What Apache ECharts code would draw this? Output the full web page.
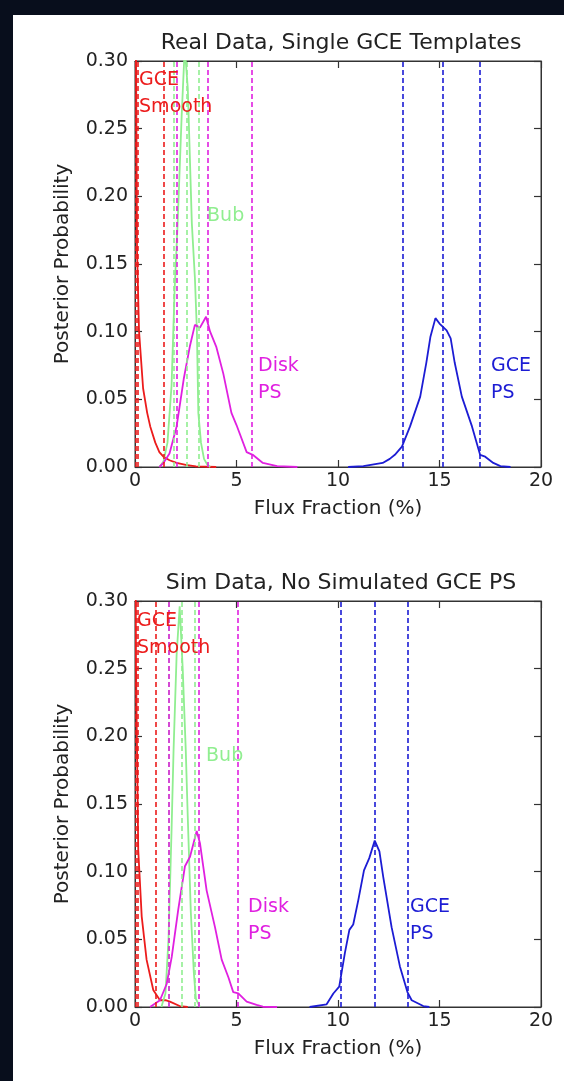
<!DOCTYPE html>
<html>
<head>
<meta charset="utf-8">
<script src="https://cdn.jsdelivr.net/npm/echarts@6/dist/echarts.min.js"></script>
<style>
  html, body { margin: 0; padding: 0; background: #080e1c; }
  #chart { position: absolute; left: 13px; top: 15px; width: 551px; height: 1066px; background: #fff; }
</style>
</head>
<body>
<div id="chart"></div>
<script>
// flux fraction (%) vs posterior probability
const realSmooth = [[0, 0.45], [0.1, 0.16], [0.2, 0.1], [0.4, 0.058], [0.6, 0.04], [0.75, 0.03], [1.0, 0.018],
  [1.2, 0.011], [1.4, 0.0076], [1.7, 0.005], [2.05, 0.003], [2.5, 0.0015], [3, 0.0005], [4, 0]];
const realBub = [[1.2, 0], [1.4, 0.004], [1.6, 0.018], [1.8, 0.06], [1.95, 0.13], [2.1, 0.18], [2.3, 0.26],
  [2.45, 0.31], [2.6, 0.28], [2.8, 0.18], [2.95, 0.14], [3.05, 0.1], [3.12, 0.04], [3.25, 0.018], [3.4, 0.006], [3.55, 0.002], [3.7, 0]];
const realDisk = [[1.2, 0], [1.4, 0.003], [1.7, 0.01], [2.05, 0.03], [2.2, 0.045], [2.4, 0.065], [2.7, 0.089],
  [2.95, 0.105], [3.2, 0.103], [3.5, 0.111], [3.7, 0.1], [4.0, 0.089], [4.35, 0.069], [4.75, 0.04],
  [5.0, 0.031], [5.5, 0.011], [5.8, 0.009], [6.3, 0.003], [7.0, 0.0007], [8.0, 0]];
const realGcePs = [[10.5, 0], [11.25, 0.0007], [12.2, 0.003], [12.55, 0.006], [12.8, 0.009], [13.15, 0.015],
  [13.55, 0.03], [14.05, 0.052], [14.35, 0.077], [14.55, 0.096], [14.8, 0.11], [15.0, 0.106], [15.35, 0.101],
  [15.55, 0.095], [15.75, 0.077], [16.1, 0.052], [16.6, 0.03], [17.0, 0.009], [17.25, 0.0076], [17.65, 0.003],
  [18.0, 0.0007], [18.5, 0]];

const simSmooth = [[0, 0.45], [0.05, 0.25], [0.16, 0.116], [0.33, 0.067], [0.57, 0.035], [0.9, 0.0126],
  [1.23, 0.005], [1.5, 0.005], [1.72, 0.004], [2.2, 0.0007], [2.6, 0]];
const simBub = [[1.3, 0], [1.5, 0.01], [1.65, 0.05], [1.8, 0.13], [1.9, 0.19], [2.05, 0.26], [2.2, 0.296],
  [2.35, 0.25], [2.5, 0.19], [2.6, 0.14], [2.75, 0.07], [2.9, 0.025], [3.0, 0.006], [3.2, 0]];
const simDisk = [[0.74, 0], [1.23, 0.005], [1.56, 0.017], [1.81, 0.037], [2.13, 0.072], [2.46, 0.104],
  [2.71, 0.111], [3.04, 0.13], [3.2, 0.121], [3.53, 0.086], [3.94, 0.059], [4.27, 0.035], [4.6, 0.022],
  [4.84, 0.011], [5.09, 0.01], [5.5, 0.004], [5.99, 0.0015], [6.3, 0.0002], [7.0, 0]];
const simGcePs = [[8.6, 0], [9.44, 0.002], [9.77, 0.01], [10.06, 0.015], [10.34, 0.04], [10.56, 0.057],
  [10.75, 0.061], [11.0, 0.079], [11.28, 0.101], [11.54, 0.11], [11.81, 0.123], [12.04, 0.115],
  [12.23, 0.096], [12.64, 0.059], [13.05, 0.03], [13.42, 0.011], [13.63, 0.005], [14.2, 0.0007], [14.5, 0]];

// dashed lines: lower / median / upper of each posterior
const realSmoothBand = [0.03, 0.15, 1.4];
const realBubBand = [1.92, 2.55, 3.15];
const realDiskBand = [2.04, 3.58, 5.75];
const realGcePsBand = [13.17, 15.14, 17.0];
const simSmoothBand = [0.03, 0.12, 1.03];
const simBubBand = [1.66, 2.3, 2.96];
const simDiskBand = [1.64, 3.12, 5.04];
const simGcePsBand = [10.15, 11.81, 13.42];

const titles = ['Real Data, Single GCE Templates', 'Sim Data, No Simulated GCE PS'];
const xTicks = [0, 5, 10, 15, 20];
const yTicks = [0, 0.05, 0.1, 0.15, 0.2, 0.25, 0.3];

const RED = '#ec1c1c', GREEN = '#90ee90', MAGENTA = '#e020e0', BLUE = '#1c1cd4';
const FONT = 'DejaVu Sans';
const TXT = '#222';

const chart = echarts.init(document.getElementById('chart'));

const gridTops = [46, 586];

function makeSeries(name, data, color, band, gi, text, at) {
  return {
    name: name,
    type: 'line',
    xAxisIndex: gi * 2,
    yAxisIndex: gi * 2,
    data: data,
    showSymbol: false,
    clip: true,
    lineStyle: {color: color, width: 1.8},
    itemStyle: {color: color},
    markLine: {
      silent: true,
      symbol: ['none', 'none'],
      label: {show: false},
      lineStyle: {color: color, type: [5, 3], width: 1.6},
      data: band.map(v => ({xAxis: v})),
    },
    markPoint: {
      silent: true,
      symbol: 'circle',
      symbolSize: 0,
      label: {
        show: true,
        position: 'right',
        distance: 0,
        color: color,
        fontFamily: FONT,
        fontSize: 19,
        lineHeight: 27,
        align: 'left',
        formatter: text,
      },
      data: [{coord: at, value: 0}],
    },
  };
}

const xAxes = [], yAxes = [], grids = [], titleOpts = [];
gridTops.forEach((top, gi) => {
  grids.push({left: 122, top: top, width: 406, height: 406, show: true, borderColor: '#333', borderWidth: 1, backgroundColor: '#fff'});
  titleOpts.push({
    text: titles[gi], left: 323, top: top - 34, textAlign: 'center',
    textStyle: {fontFamily: FONT, fontSize: 22, fontWeight: 'normal', color: TXT},
  });
  const tick = {show: true, inside: true, length: 7, lineStyle: {color: '#333', width: 1.2}};
  xAxes.push({
    gridIndex: gi, type: 'value', min: 0, max: 20, interval: 5, position: 'bottom',
    name: 'Flux Fraction (%)', nameLocation: 'middle', nameGap: 32,
    nameTextStyle: {fontFamily: FONT, fontSize: 20, color: TXT},
    axisLine: {show: true, onZero: false, lineStyle: {color: '#333'}},
    axisTick: tick, splitLine: {show: false},
    axisLabel: {fontFamily: FONT, fontSize: 19, color: TXT, margin: 5,
      formatter: v => xTicks.includes(v) ? String(v) : ''},
  });
  xAxes.push({
    gridIndex: gi, type: 'value', min: 0, max: 20, interval: 5, position: 'top',
    axisLine: {show: true, onZero: false, lineStyle: {color: '#333'}},
    axisTick: tick, splitLine: {show: false}, axisLabel: {show: false},
  });
  yAxes.push({
    gridIndex: gi, type: 'value', min: 0, max: 0.3, interval: 0.05, position: 'left',
    name: 'Posterior Probability', nameLocation: 'middle', nameGap: 62,
    nameTextStyle: {fontFamily: FONT, fontSize: 20, color: TXT},
    axisLine: {show: true, onZero: false, lineStyle: {color: '#333'}},
    axisTick: tick, splitLine: {show: false},
    axisLabel: {fontFamily: FONT, fontSize: 19, color: TXT, margin: 7,
      formatter: v => yTicks.some(t => Math.abs(t - v) < 1e-9) ? v.toFixed(2) : ''},
  });
  yAxes.push({
    gridIndex: gi, type: 'value', min: 0, max: 0.3, interval: 0.05, position: 'right',
    axisLine: {show: true, onZero: false, lineStyle: {color: '#333'}},
    axisTick: tick, splitLine: {show: false}, axisLabel: {show: false},
  });
});

const series = [
  makeSeries('GCE Smooth', realSmooth, RED, realSmoothBand, 0, 'GCE\nSmooth', [0.2, 0.276]),
  makeSeries('Bub', realBub, GREEN, realBubBand, 0, 'Bub', [3.55, 0.1855]),
  makeSeries('Disk PS', realDisk, MAGENTA, realDiskBand, 0, 'Disk\nPS', [6.06, 0.0643]),
  makeSeries('GCE PS', realGcePs, BLUE, realGcePsBand, 0, 'GCE\nPS', [17.54, 0.0643]),
  makeSeries('GCE Smooth', simSmooth, RED, simSmoothBand, 1, 'GCE\nSmooth', [0.1, 0.275]),
  makeSeries('Bub', simBub, GREEN, simBubBand, 1, 'Bub', [3.5, 0.1855]),
  makeSeries('Disk PS', simDisk, MAGENTA, simDiskBand, 1, 'Disk\nPS', [5.57, 0.0636]),
  makeSeries('GCE PS', simGcePs, BLUE, simGcePsBand, 1, 'GCE\nPS', [13.55, 0.0636]),
];

chart.setOption({
  animation: false,
  backgroundColor: '#fff',
  title: titleOpts,
  grid: grids,
  xAxis: xAxes,
  yAxis: yAxes,
  series: series,
});
</script>
</body>
</html>
